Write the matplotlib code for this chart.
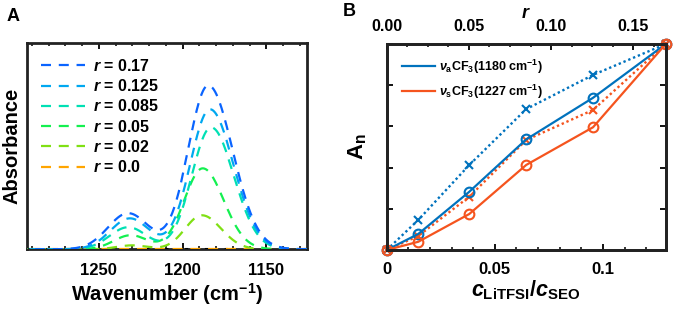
import numpy as np
import matplotlib
matplotlib.use('Agg')
import matplotlib.pyplot as plt
from matplotlib.ticker import MultipleLocator
from matplotlib.lines import Line2D

plt.rcParams.update({
    "font.family": ["Liberation Sans", "DejaVu Sans"],
    "font.weight": "bold",
    "axes.labelweight": "bold",
    "mathtext.fontset": "custom",
    "mathtext.rm": "Liberation Sans:bold",
    "mathtext.bf": "Liberation Sans:bold",
    "mathtext.it": "Liberation Sans:bold:italic",
    "axes.linewidth": 2.0,
    "axes.edgecolor": "#222222",
})

# ---- panel A: FTIR band fits ----
r_labels = ["0.17", "0.125", "0.085", "0.05", "0.02", "0.0"]
curve_colors = ["#0a64ff", "#00a8f0", "#00e0b4", "#14f050", "#80e014", "#ffa500"]
main_height = [0.796, 0.680, 0.592, 0.393, 0.165, 0.0]
main_center = [1184.7, 1183.7, 1183.0, 1188.0, 1188.5, 1185.0]
main_sigma_hi = [12.0, 11.8, 11.5, 11.0, 10.0, 11.0]   # high-wavenumber side
main_sigma_lo = [14.5, 14.0, 13.5, 12.5, 11.5, 12.0]   # low-wavenumber side
side_height = [0.175, 0.150, 0.107, 0.068, 0.019, 0.0]
side_center = [1232.5, 1231.5, 1232.5, 1231.0, 1230.0, 1230.0]
side_sigma = [12.0, 11.5, 11.0, 10.0, 9.0, 10.0]

# ---- panel B: normalised band areas ----
c_ratio = [0, 0.0146, 0.0382, 0.0645, 0.0954, 0.129]
asym_fit = [0, 0.078, 0.283, 0.537, 0.739, 1.0]     # blue circles
asym_raw = [0, 0.146, 0.413, 0.684, 0.850, 1.0]     # blue crosses
sym_fit = [0, 0.040, 0.175, 0.413, 0.596, 1.0]      # orange circles
sym_raw = [0, 0.068, 0.259, 0.534, 0.680, 1.0]      # orange crosses

blue = "#0072bd"
orange = "#f5541e"

fig = plt.figure(figsize=(6.73, 3.1), dpi=100)
axA = fig.add_axes([0.0397, 0.196, 0.416, 0.664])
axB = fig.add_axes([0.5746, 0.1935, 0.4146, 0.6645])

wn = np.linspace(1126, 1293, 600)
handles = []
for i in range(len(r_labels)):
    sig = np.where(wn > main_center[i], main_sigma_hi[i], main_sigma_lo[i])
    y = (main_height[i] * np.exp(-0.5 * ((wn - main_center[i]) / sig) ** 2)
         + side_height[i] * np.exp(-0.5 * ((wn - side_center[i]) / side_sigma[i]) ** 2))
    ln, = axA.plot(wn, y, color=curve_colors[i], lw=1.6, dashes=(4.5, 3.5),
                   zorder=10 - i)
    handles.append(ln)
axA.plot(wn, np.zeros_like(wn), color="black", lw=1.5, dashes=(1.5, 8), zorder=3)

axA.set_xlim(1293, 1126)
axA.set_ylim(0, 1)
axA.set_yticks([])
axA.xaxis.set_major_locator(MultipleLocator(50))
axA.xaxis.set_minor_locator(MultipleLocator(10))
axA.tick_params(axis="x", which="both", direction="in", top=True, labelsize=12, pad=10)
axA.tick_params(axis="x", which="major", length=4, width=1.3)
axA.tick_params(axis="x", which="minor", length=2.5, width=1.1)
axA.set_xlabel(r"Wavenumber (cm$^{-1}$)", fontsize=14.5)
axA.xaxis.set_label_coords(0.5, -0.155)
axA.set_ylabel("Absorbance", fontsize=14.5)
axA.yaxis.set_label_coords(-0.02, 0.5)
axA.legend(handles, [r"$r$ = " + s for s in r_labels], loc="upper left",
           bbox_to_anchor=(0.05, 0.93), frameon=False, fontsize=11.5,
           handlelength=2.8, handletextpad=0.5, labelspacing=0.27,
           borderpad=0, borderaxespad=0)

# ---- panel B ----
axB.plot(c_ratio, asym_raw, color=blue, lw=1.7, dashes=(1, 1.2), marker="x", ms=6, mew=1.5)
axB.plot(c_ratio, sym_raw, color=orange, lw=1.7, dashes=(1, 1.2), marker="x", ms=6, mew=1.5)
axB.plot(c_ratio, asym_fit, "-", color=blue, lw=1.6, marker="o", ms=7,
         mfc="none", mew=1.5)
axB.plot(c_ratio, sym_fit, "-", color=orange, lw=1.6, marker="o", ms=7,
         mfc="none", mew=1.5)
for ln in axB.lines:
    ln.set_clip_on(False)

axB.set_xlim(0, 0.129)
axB.set_ylim(0, 1)
axB.xaxis.set_major_locator(MultipleLocator(0.05))
axB.xaxis.set_minor_locator(MultipleLocator(0.01))
axB.set_xticks([0, 0.05, 0.1])
axB.set_xticklabels(["0", "0.05", "0.1"])
axB.set_yticks(np.arange(0, 1.01, 0.2))
axB.set_yticklabels([])
axB.tick_params(which="both", direction="in", right=True, labelsize=12)
axB.tick_params(axis="x", pad=8.5)
axB.tick_params(which="major", length=4, width=1.3)
axB.tick_params(which="minor", length=2.5, width=1.1)
axB.set_xlabel(r"$c_{\rm LiTFSI}/c_{\rm SEO}$", fontsize=15.5)
axB.xaxis.set_label_coords(0.5, -0.14)
axB.set_ylabel(r"A$_{\rm n}$", fontsize=16)
axB.yaxis.set_label_coords(-0.065, 0.5)

top = axB.twiny()
top.set_xlim(0, 0.1697)
top.xaxis.set_major_locator(MultipleLocator(0.05))
top.xaxis.set_minor_locator(MultipleLocator(0.0125))
top.set_xticklabels(["%.2f" % v for v in top.get_xticks()])
top.tick_params(which="both", direction="in", labelsize=11.5, pad=7)
top.tick_params(which="major", length=4, width=1.3)
top.tick_params(which="minor", length=2.5, width=1.1)
top.set_xlabel(r"$r$", fontsize=13, labelpad=1)
top.set_xlim(0, 0.1697)

leg_handles = [Line2D([], [], color=blue, lw=1.6), Line2D([], [], color=orange, lw=1.6)]
axB.legend(leg_handles,
           [r"$\nu_{\rm a}$CF$_3$(1180 cm$^{-1}$)", r"$\nu_{\rm s}$CF$_3$(1227 cm$^{-1}$)"],
           loc="upper left", bbox_to_anchor=(0.054, 0.935), frameon=False, fontsize=9,
           handlelength=2.65, handletextpad=0.3, labelspacing=0.55,
           borderpad=0, borderaxespad=0)

fig.text(0.009, 0.975, "A", fontsize=13, fontweight="bold", va="top")
fig.text(0.51, 0.99, "B", fontsize=13, fontweight="bold", va="top")

fig.savefig("out.png", dpi=100)
